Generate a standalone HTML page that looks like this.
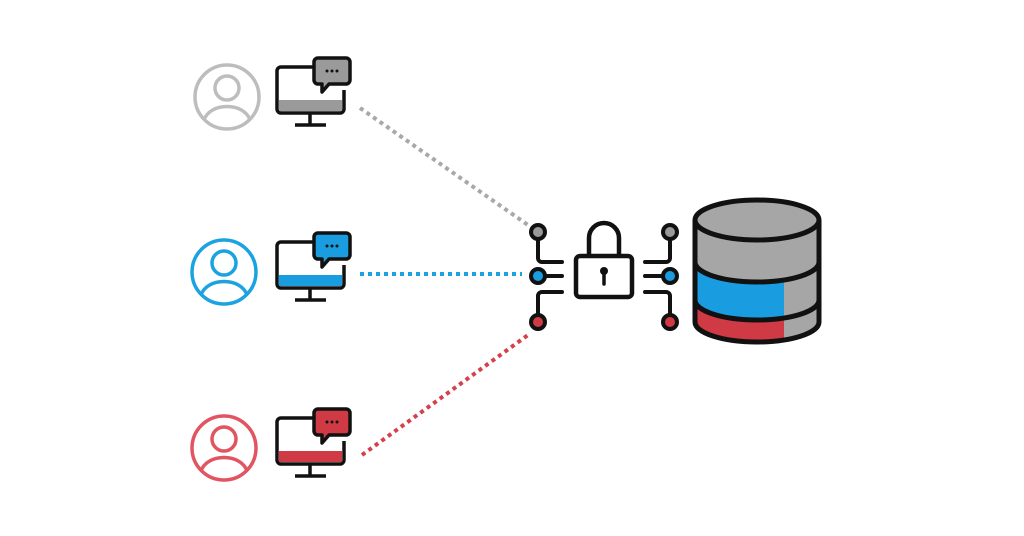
<!DOCTYPE html>
<html><head><meta charset="utf-8"><style>html,body{margin:0;padding:0;background:#fff}svg{display:block}</style></head>
<body>
<svg width="1024" height="536" viewBox="0 0 1024 536" xmlns="http://www.w3.org/2000/svg">
<defs>
<g id="mon">
  <path d="M313 67 H281 a4 4 0 0 0 -4 4 V109 a4 4 0 0 0 4 4 H340 a4 4 0 0 0 4 -4 V90" fill="none" stroke="#111" stroke-width="3.5"/>
  <line x1="310" y1="113" x2="310" y2="125" stroke="#111" stroke-width="3.5"/>
  <line x1="295" y1="125" x2="326" y2="125" stroke="#111" stroke-width="3.5"/>
</g>
<clipPath id="cl"><rect x="690" y="200" width="94" height="160"/></clipPath>
</defs>

<!-- connectors -->
<line x1="360" y1="108" x2="528" y2="225" stroke="#a8a8a8" stroke-width="4" stroke-dasharray="4 4"/>
<line x1="360" y1="274" x2="522" y2="274" stroke="#1aa3e0" stroke-width="4" stroke-dasharray="4 4"/>
<line x1="362" y1="455" x2="528" y2="335" stroke="#d6404c" stroke-width="4" stroke-dasharray="4 4"/>

<!-- users -->
<g transform="translate(0,0)">
  <circle cx="227" cy="97" r="32" fill="none" stroke="#bdbdbd" stroke-width="3.5"/>
  <circle cx="227" cy="88" r="12" fill="none" stroke="#bdbdbd" stroke-width="3.5"/>
  <path d="M204 120 C210 102 244 102 250 120" fill="none" stroke="#bdbdbd" stroke-width="3.5"/>
  <use href="#mon"/>
  <rect x="279" y="100" width="63" height="11" fill="#9a9a9a"/>
  <path d="M318 58 H346 a4 4 0 0 1 4 4 V80 a4 4 0 0 1 -4 4 H329 L322 92 V84 H318 a4 4 0 0 1 -4 -4 V62 a4 4 0 0 1 4 -4Z" fill="#9a9a9a" stroke="#111" stroke-width="3.5" stroke-linejoin="round"/>
  <circle cx="327" cy="71" r="1.5" fill="#111"/><circle cx="332" cy="71" r="1.5" fill="#111"/><circle cx="337" cy="71" r="1.5" fill="#111"/>
</g>
<g transform="translate(-3,175)">
  <circle cx="227" cy="97" r="32" fill="none" stroke="#1aa3e0" stroke-width="3.5"/>
  <circle cx="227" cy="88" r="12" fill="none" stroke="#1aa3e0" stroke-width="3.5"/>
  <path d="M204 120 C210 102 244 102 250 120" fill="none" stroke="#1aa3e0" stroke-width="3.5"/>
</g>
<g transform="translate(0,175)">
  <use href="#mon"/>
  <rect x="279" y="100" width="63" height="11" fill="#1a9de0"/>
  <path d="M318 58 H346 a4 4 0 0 1 4 4 V80 a4 4 0 0 1 -4 4 H329 L322 92 V84 H318 a4 4 0 0 1 -4 -4 V62 a4 4 0 0 1 4 -4Z" fill="#1a9de0" stroke="#111" stroke-width="3.5" stroke-linejoin="round"/>
  <circle cx="327" cy="71" r="1.5" fill="#111"/><circle cx="332" cy="71" r="1.5" fill="#111"/><circle cx="337" cy="71" r="1.5" fill="#111"/>
</g>
<g transform="translate(-3,351)">
  <circle cx="227" cy="97" r="32" fill="none" stroke="#e05560" stroke-width="3.5"/>
  <circle cx="227" cy="88" r="12" fill="none" stroke="#e05560" stroke-width="3.5"/>
  <path d="M204 120 C210 102 244 102 250 120" fill="none" stroke="#e05560" stroke-width="3.5"/>
</g>
<g transform="translate(0,351)">
  <use href="#mon"/>
  <rect x="279" y="100" width="63" height="11" fill="#d03a45"/>
  <path d="M318 58 H346 a4 4 0 0 1 4 4 V80 a4 4 0 0 1 -4 4 H329 L322 92 V84 H318 a4 4 0 0 1 -4 -4 V62 a4 4 0 0 1 4 -4Z" fill="#d03a45" stroke="#111" stroke-width="3.5" stroke-linejoin="round"/>
  <circle cx="327" cy="71" r="1.5" fill="#111"/><circle cx="332" cy="71" r="1.5" fill="#111"/><circle cx="337" cy="71" r="1.5" fill="#111"/>
</g>

<!-- circuit -->
<g fill="none" stroke="#111" stroke-width="4" stroke-linecap="round">
  <path d="M538 240 V258 a4 4 0 0 0 4 4 H562"/>
  <path d="M546 276 H562"/>
  <path d="M538 314 V296 a4 4 0 0 1 4 -4 H562"/>
  <path d="M670 240 V258 a4 4 0 0 1 -4 4 H645"/>
  <path d="M662 276 H645"/>
  <path d="M670 314 V296 a4 4 0 0 0 -4 -4 H645"/>
</g>
<g stroke="#111" stroke-width="4">
  <circle cx="538" cy="232" r="7" fill="#9a9a9a"/>
  <circle cx="538" cy="276" r="7" fill="#1a9de0"/>
  <circle cx="538" cy="322" r="7" fill="#d03a45"/>
  <circle cx="670" cy="232" r="7" fill="#9a9a9a"/>
  <circle cx="670" cy="276" r="7" fill="#1a9de0"/>
  <circle cx="670" cy="322" r="7" fill="#d03a45"/>
</g>
<!-- lock -->
<path d="M589 256 V238 a15 15 0 0 1 30 0 V256" fill="none" stroke="#111" stroke-width="4.5"/>
<rect x="576" y="256" width="56" height="41" rx="4" fill="#fff" stroke="#111" stroke-width="4.5"/>
<circle cx="604" cy="271" r="4" fill="#111"/>
<line x1="604" y1="271" x2="604" y2="284" stroke="#111" stroke-width="3.5" stroke-linecap="round"/>

<!-- database -->
<path d="M695 220 V322 A62 20 0 0 0 819 322 V220 Z" fill="#a6a6a6"/>
<g clip-path="url(#cl)">
  <path d="M695 262 A62 20 0 0 0 819 262 V300 A62 20 0 0 1 695 300 Z" fill="#1a9de0"/>
  <path d="M695 300 A62 20 0 0 0 819 300 V322 A62 20 0 0 1 695 322 Z" fill="#d03a45"/>
</g>
<g stroke="#111" stroke-width="5" fill="none">
  <path d="M695 220 V322 A62 20 0 0 0 819 322 V220"/>
  <path d="M695 262 A62 20 0 0 0 819 262"/>
  <path d="M695 300 A62 20 0 0 0 819 300"/>
  <ellipse cx="757" cy="220" rx="62" ry="20" fill="#a6a6a6"/>
</g>
</svg>
</body></html>
